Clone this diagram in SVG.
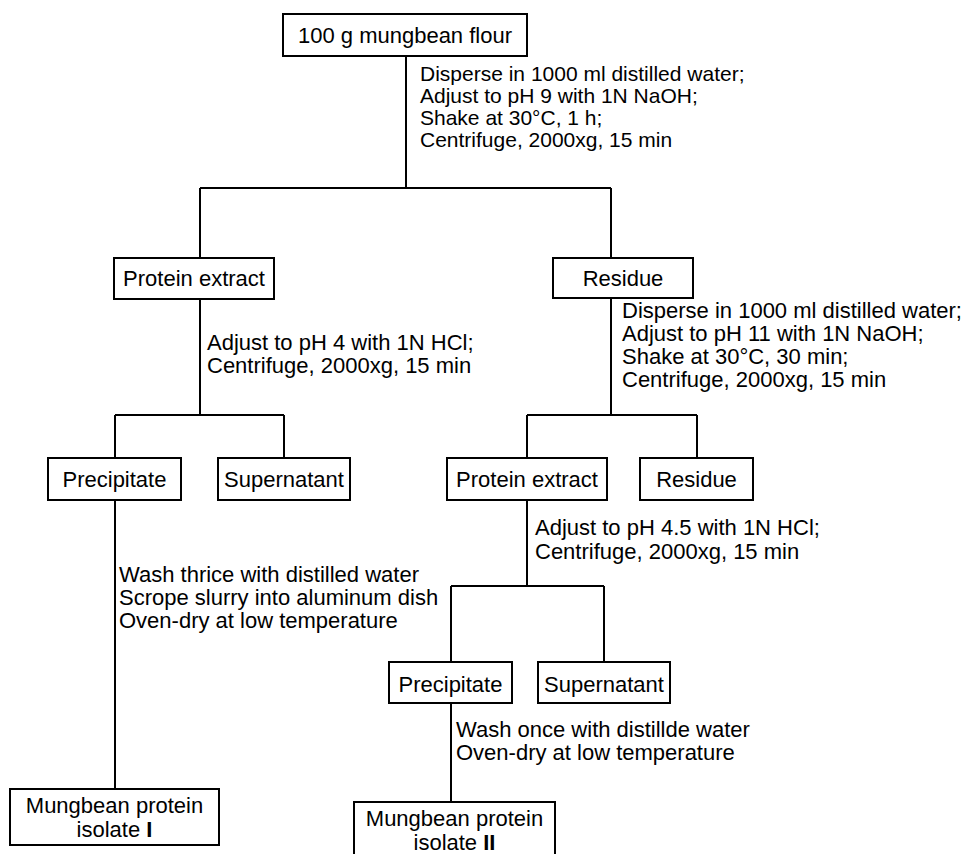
<svg xmlns="http://www.w3.org/2000/svg" width="967" height="854" viewBox="0 0 967 854">
<style>
  .box { fill: #ffffff; stroke: #000000; stroke-width: 2; }
  .lbl { font-family: "Liberation Sans", Arial, sans-serif; font-size: 22px; fill: #000000; }
  .sm { font-size: 21px; }
  .mid { text-anchor: middle; }
  .conn { fill: none; stroke: #000000; stroke-width: 2; }
</style>
<rect width="967" height="854" fill="#ffffff"/>
<g id="connectors">
  <path class="conn" d="M406,56 V188 M200,188 H611 M200,188 V258 M611,188 V258"/>
  <path class="conn" d="M200,299 V415 M115,415 H284 M115,415 V458 M284,415 V458"/>
  <path class="conn" d="M611,298 V415 M527,415 H697 M527,415 V458 M697,415 V458"/>
  <path class="conn" d="M115,500 V789"/>
  <path class="conn" d="M527,500 V586 M451,586 H604 M451,586 V662 M604,586 V662"/>
  <path class="conn" d="M451,703 V802"/>
</g>
<g id="labels">
  <text class="lbl sm" x="420" y="81"><tspan x="420" y="81">Disperse in 1000 ml distilled water;</tspan><tspan x="420" y="103">Adjust to pH 9 with 1N NaOH;</tspan><tspan x="420" y="125">Shake at 30°C, 1 h;</tspan><tspan x="420" y="147">Centrifuge, 2000xg, 15 min</tspan></text>
  <text class="lbl" x="207" y="350"><tspan x="207" y="350">Adjust to pH 4 with 1N HCl;</tspan><tspan x="207" y="373">Centrifuge, 2000xg, 15 min</tspan></text>
  <text class="lbl" x="622" y="318"><tspan x="622" y="318">Disperse in 1000 ml distilled water;</tspan><tspan x="622" y="341">Adjust to pH 11 with 1N NaOH;</tspan><tspan x="622" y="364">Shake at 30°C, 30 min;</tspan><tspan x="622" y="387">Centrifuge, 2000xg, 15 min</tspan></text>
  <text class="lbl" x="119" y="582"><tspan x="119" y="582">Wash thrice with distilled water</tspan><tspan x="119" y="605">Scrope slurry into aluminum dish</tspan><tspan x="119" y="628">Oven-dry at low temperature</tspan></text>
  <text class="lbl" x="535" y="535"><tspan x="535" y="535">Adjust to pH 4.5 with 1N HCl;</tspan><tspan x="535" y="559">Centrifuge, 2000xg, 15 min</tspan></text>
  <text class="lbl" x="456" y="737"><tspan x="456" y="737">Wash once with distillde water</tspan><tspan x="456" y="760">Oven-dry at low temperature</tspan></text>
</g>
<g id="n_flour">
  <rect class="box" x="283" y="14" width="244" height="42"/>
  <text class="lbl mid" x="405" y="43">100 g mungbean flour</text>
</g>
<g id="n_extract1">
  <rect class="box" x="114" y="258" width="160" height="41"/>
  <text class="lbl mid" x="194" y="286">Protein extract</text>
</g>
<g id="n_residue1">
  <rect class="box" x="553" y="258" width="140" height="40"/>
  <text class="lbl mid" x="623" y="286">Residue</text>
</g>
<g id="n_precip1">
  <rect class="box" x="48" y="458" width="133" height="42"/>
  <text class="lbl mid" x="114.5" y="487">Precipitate</text>
</g>
<g id="n_super1">
  <rect class="box" x="218" y="458" width="132" height="42"/>
  <text class="lbl mid" x="284" y="487">Supernatant</text>
</g>
<g id="n_extract2">
  <rect class="box" x="447" y="458" width="160" height="42"/>
  <text class="lbl mid" x="527" y="487">Protein extract</text>
</g>
<g id="n_residue2">
  <rect class="box" x="640" y="458" width="113" height="42"/>
  <text class="lbl mid" x="696.5" y="487">Residue</text>
</g>
<g id="n_precip2">
  <rect class="box" x="389" y="662" width="123" height="41"/>
  <text class="lbl mid" x="450.5" y="692">Precipitate</text>
</g>
<g id="n_super2">
  <rect class="box" x="538" y="662" width="132" height="41"/>
  <text class="lbl mid" x="604" y="692">Supernatant</text>
</g>
<g id="n_isolate1">
  <rect class="box" x="10" y="789" width="209" height="56"/>
  <text class="lbl mid" x="114.5" y="813"><tspan x="114.5" y="813">Mungbean protein</tspan><tspan x="114.5" y="837">isolate <tspan font-weight="bold">I</tspan></tspan></text>
</g>
<g id="n_isolate2">
  <rect class="box" x="354" y="802" width="201" height="60"/>
  <text class="lbl mid" x="454.5" y="826"><tspan x="454.5" y="826">Mungbean protein</tspan><tspan x="454.5" y="850">isolate <tspan font-weight="bold">II</tspan></tspan></text>
</g>
</svg>
